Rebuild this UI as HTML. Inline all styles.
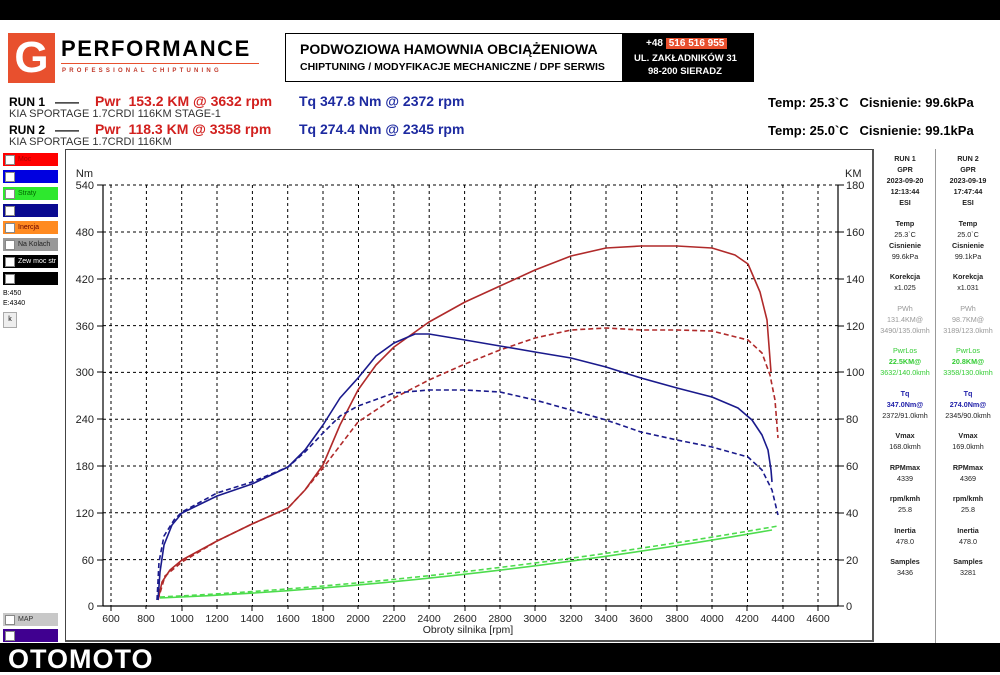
<!DOCTYPE html>
<html><head><meta charset="utf-8"><style>
body{margin:0;width:1000px;height:672px;position:relative;background:#fff;font-family:"Liberation Sans",sans-serif;overflow:hidden}
.a{position:absolute;white-space:nowrap}
.cb{position:absolute;left:3px;width:55px;height:13px;font-size:7px;line-height:13px}
.cb i{display:inline-block;width:8px;height:8px;background:#fff;border:1px solid #888;margin:2px 3px 0 2px;vertical-align:top}
.col{position:absolute;top:153px;width:62px;text-align:center;font-size:7.2px;line-height:11px;color:#222}
.col div{margin-bottom:9.5px}
.col b{font-weight:bold}
</style></head><body>
<div class="a" style="left:0;top:0;width:1000px;height:20px;background:#000"></div>
<div class="a" style="left:0;top:643px;width:1000px;height:29px;background:#000"></div>
<div class="a" style="left:8px;top:644px;font-size:27px;font-weight:bold;color:#fff;letter-spacing:1px">OTOMOTO</div>
<div class="a" style="left:8px;top:33px;width:47px;height:50px;background:#e8502e;color:#fff;font-size:44px;font-weight:bold;text-align:center;line-height:50px">G</div>
<div class="a" style="left:61px;top:36px;font-size:22px;font-weight:bold;letter-spacing:1.6px">PERFORMANCE</div>
<div class="a" style="left:61px;top:63px;width:198px;height:1px;background:#e8502e"></div>
<div class="a" style="left:62px;top:68px;font-size:6px;letter-spacing:3.2px;color:#c0392b;font-weight:bold">PROFESSIONAL CHIPTUNING</div>
<div class="a" style="left:285px;top:33px;width:336px;height:47px;border:1px solid #000"></div>
<div class="a" style="left:300px;top:41px;font-size:14px;font-weight:bold">PODWOZIOWA HAMOWNIA OBCIĄŻENIOWA</div>
<div class="a" style="left:300px;top:61px;font-size:10.5px;font-weight:bold">CHIPTUNING / MODYFIKACJE MECHANICZNE / DPF SERWIS</div>
<div class="a" style="left:622px;top:33px;width:132px;height:49px;background:#000"></div>
<div class="a" style="left:646px;top:38px;font-size:10px;font-weight:bold;color:#fff">+48 <span style="background:#e8502e;padding:0 3px">516 516 955</span></div>
<div class="a" style="left:634px;top:53px;font-size:9.5px;font-weight:bold;color:#fff">UL. ZAKŁADNIKÓW 31</div>
<div class="a" style="left:648px;top:66px;font-size:9.5px;font-weight:bold;color:#fff">98-200 SIERADZ</div>
<div class="a" style="left:9px;top:95px;font-size:12px;font-weight:bold">RUN 1 &nbsp; ——</div>
<div class="a" style="left:95px;top:93px;font-size:14px;font-weight:bold;color:#d2201e">Pwr &nbsp;153.2 KM @ 3632 rpm</div>
<div class="a" style="left:299px;top:93px;font-size:14px;font-weight:bold;color:#1d2aa0">Tq 347.8 Nm @ 2372 rpm</div>
<div class="a" style="left:9px;top:108px;font-size:11px;color:#333">KIA SPORTAGE 1.7CRDI 116KM STAGE-1</div>
<div class="a" style="left:9px;top:123px;font-size:12px;font-weight:bold">RUN 2 &nbsp; ——</div>
<div class="a" style="left:95px;top:121px;font-size:14px;font-weight:bold;color:#d2201e">Pwr &nbsp;118.3 KM @ 3358 rpm</div>
<div class="a" style="left:299px;top:121px;font-size:14px;font-weight:bold;color:#1d2aa0">Tq 274.4 Nm @ 2345 rpm</div>
<div class="a" style="left:9px;top:136px;font-size:11px;color:#333">KIA SPORTAGE 1.7CRDI 116KM</div>
<div class="a" style="left:768px;top:95px;font-size:13px;font-weight:bold">Temp: 25.3`C &nbsp; Cisnienie: 99.6kPa</div>
<div class="a" style="left:768px;top:123px;font-size:13px;font-weight:bold">Temp: 25.0`C &nbsp; Cisnienie: 99.1kPa</div>
<div class="cb" style="top:153px;background:#f00;color:#a00"><i></i>Moc</div>
<div class="cb" style="top:170px;background:#0000e0"><i></i></div>
<div class="cb" style="top:187px;background:#2ee82e;color:#060"><i></i>Straty</div>
<div class="cb" style="top:204px;background:#0a0a90"><i></i></div>
<div class="cb" style="top:221px;background:#ff8a20;color:#600"><i></i>Inercja</div>
<div class="cb" style="top:238px;background:#999;color:#222"><i></i>Na Kolach</div>
<div class="cb" style="top:255px;background:#000;color:#fff"><i></i>Zew moc str</div>
<div class="cb" style="top:272px;background:#000"><i></i></div>
<div class="a" style="left:3px;top:290px;font-size:7px">B:450</div>
<div class="a" style="left:3px;top:300px;font-size:7px">E:4340</div>
<div class="a" style="left:3px;top:312px;width:12px;height:14px;border:1px solid #aaa;background:#eee;font-size:7px;text-align:center;line-height:14px">k</div>
<div class="cb" style="top:613px;background:#c8c8c8;color:#333"><i></i>MAP</div>
<div class="cb" style="top:629px;background:#400090"><i></i></div>
<div class="a" style="left:65px;top:149px;width:806px;height:490px;border:1px solid #444;border-right:2px solid #555;border-bottom:2px solid #555"></div>
<svg class="a" style="left:0;top:0" width="1000" height="672">
<g stroke="#000" stroke-width="1" stroke-dasharray="3,3" fill="none">
<path d="M103 185H838M103 232H838M103 278.8H838M103 325.6H838M103 372.4H838M103 419.2H838M103 466H838M103 512.8H838M103 559.6H838"/>
<path d="M111 185V606M146.4 185V606M181.7 185V606M217 185V606M252.4 185V606M287.7 185V606M323 185V606M358.5 185V606M393.9 185V606M429.2 185V606M464.6 185V606M500 185V606M535.3 185V606M570.7 185V606M606 185V606M641.5 185V606M676.8 185V606M712 185V606M747.5 185V606M782.9 185V606M818 185V606"/>
</g>
<g stroke="#000" stroke-width="1.2"><path d="M103 185V606M838 185V606M103 606H838"/></g>
<g stroke="#000" stroke-width="1">
<path d="M97 185h6M97 232h6M97 279h6M97 326h6M97 372h6M97 419h6M97 466h6M97 513h6M97 560h6M97 606h6M838 185h6M838 232h6M838 279h6M838 326h6M838 372h6M838 419h6M838 466h6M838 513h6M838 560h6M838 606h6"/>
<path d="M111 606v5M146 606v3M182 606v5M217 606v3M252 606v5M288 606v3M323 606v5M358 606v3M394 606v5M429 606v3M465 606v5M500 606v3M535 606v5M571 606v3M606 606v5M641 606v3M677 606v5M712 606v3M747 606v5M783 606v3M818 606v5"/>
</g>
<g font-family="Liberation Sans,sans-serif" font-size="11" fill="#222" text-anchor="end">
<text x="94" y="189">540</text><text x="94" y="236">480</text><text x="94" y="283">420</text><text x="94" y="330">360</text><text x="94" y="376">300</text><text x="94" y="423">240</text><text x="94" y="470">180</text><text x="94" y="517">120</text><text x="94" y="564">60</text><text x="94" y="610">0</text>
<text x="93" y="177">Nm</text>
</g>
<g font-family="Liberation Sans,sans-serif" font-size="11" fill="#222">
<text x="846" y="189">180</text><text x="846" y="236">160</text><text x="846" y="283">140</text><text x="846" y="330">120</text><text x="846" y="376">100</text><text x="846" y="423">80</text><text x="846" y="470">60</text><text x="846" y="517">40</text><text x="846" y="564">20</text><text x="846" y="610">0</text>
<text x="845" y="177">KM</text>
</g>
<g font-family="Liberation Sans,sans-serif" font-size="10.5" fill="#222" text-anchor="middle">
<text x="111" y="622">600</text><text x="146" y="622">800</text><text x="182" y="622">1000</text><text x="217" y="622">1200</text><text x="252" y="622">1400</text><text x="288" y="622">1600</text><text x="323" y="622">1800</text><text x="358" y="622">2000</text><text x="394" y="622">2200</text><text x="429" y="622">2400</text><text x="465" y="622">2600</text><text x="500" y="622">2800</text><text x="535" y="622">3000</text><text x="571" y="622">3200</text><text x="606" y="622">3400</text><text x="641" y="622">3600</text><text x="677" y="622">3800</text><text x="712" y="622">4000</text><text x="747" y="622">4200</text><text x="783" y="622">4400</text><text x="818" y="622">4600</text>
<text x="468" y="633">Obroty silnika [rpm]</text>
</g>
<g fill="none" stroke-width="1.6" stroke-linejoin="round">
<path stroke="#4ddc4d" d="M160 598 Q450 586 772 530"/>
<path stroke="#4ddc4d" stroke-dasharray="5,3" d="M160 597 Q450 583 778 526"/>
<path stroke="#b02a2a" d="M158 600L162 582L170 570L182 560L217 541L252 524L288 508L305 490L323 465L340 425L358 390L376 365L394 347L429 322L465 302L500 286L535 270L571 256L606 248L641 246L677 246L712 248L735 255L748 264L760 292L767 320L771 372"/>
<path stroke="#b02a2a" stroke-dasharray="5,3" d="M158 600L165 576L182 562L217 541L252 524L288 508L305 490L323 468L358 422L394 398L429 380L465 364L500 350L535 338L571 330L606 328L641 330L677 330L712 331L748 340L762 353L770 375L775 400L778 438"/>
<path stroke="#1a1a8c" d="M158 600L160 572L164 545L172 525L182 513L217 496L252 484L288 467L305 450L323 425L340 398L358 378L376 356L394 343L415 334L429 334L465 340L500 346L535 352L571 358L606 367L641 378L677 388L712 397L738 408L752 420L762 435L768 450L771 470L772 482"/>
<path stroke="#1a1a8c" stroke-dasharray="5,3" d="M157 600L159 562L164 536L174 520L182 512L217 493L252 482L288 467L305 452L323 433L340 416L358 406L394 393L429 390L465 390L500 392L535 400L571 410L606 420L641 432L677 440L712 447L748 457L762 470L772 490L778 515"/>
</g>
</svg>
<div class="a" style="left:935px;top:149px;width:1px;height:494px;background:#999"></div>
<div class="col" style="left:874px"><div><b>RUN 1<br>GPR<br>2023-09-20<br>12:13:44<br>ESI</b></div><div><b>Temp</b><br>25.3`C<br><b>Cisnienie</b><br>99.6kPa</div><div><b>Korekcja</b><br>x1.025</div><div style="color:#999">PWh<br>131.4KM@<br>3490/135.0kmh</div><div style="color:#3c3">PwrLos<br><b>22.5KM@</b><br>3632/140.0kmh</div><div><b style="color:#22a">Tq<br>347.0Nm@</b><br>2372/91.0kmh</div><div><b>Vmax</b><br>168.0kmh</div><div><b>RPMmax</b><br>4339</div><div><b>rpm/kmh</b><br>25.8</div><div><b>Inertia</b><br>478.0</div><div><b>Samples</b><br>3436</div></div>
<div class="col" style="left:937px"><div><b>RUN 2<br>GPR<br>2023-09-19<br>17:47:44<br>ESI</b></div><div><b>Temp</b><br>25.0`C<br><b>Cisnienie</b><br>99.1kPa</div><div><b>Korekcja</b><br>x1.031</div><div style="color:#999">PWh<br>98.7KM@<br>3189/123.0kmh</div><div style="color:#3c3">PwrLos<br><b>20.8KM@</b><br>3358/130.0kmh</div><div><b style="color:#22a">Tq<br>274.0Nm@</b><br>2345/90.0kmh</div><div><b>Vmax</b><br>169.0kmh</div><div><b>RPMmax</b><br>4369</div><div><b>rpm/kmh</b><br>25.8</div><div><b>Inertia</b><br>478.0</div><div><b>Samples</b><br>3281</div></div>
</body></html>
